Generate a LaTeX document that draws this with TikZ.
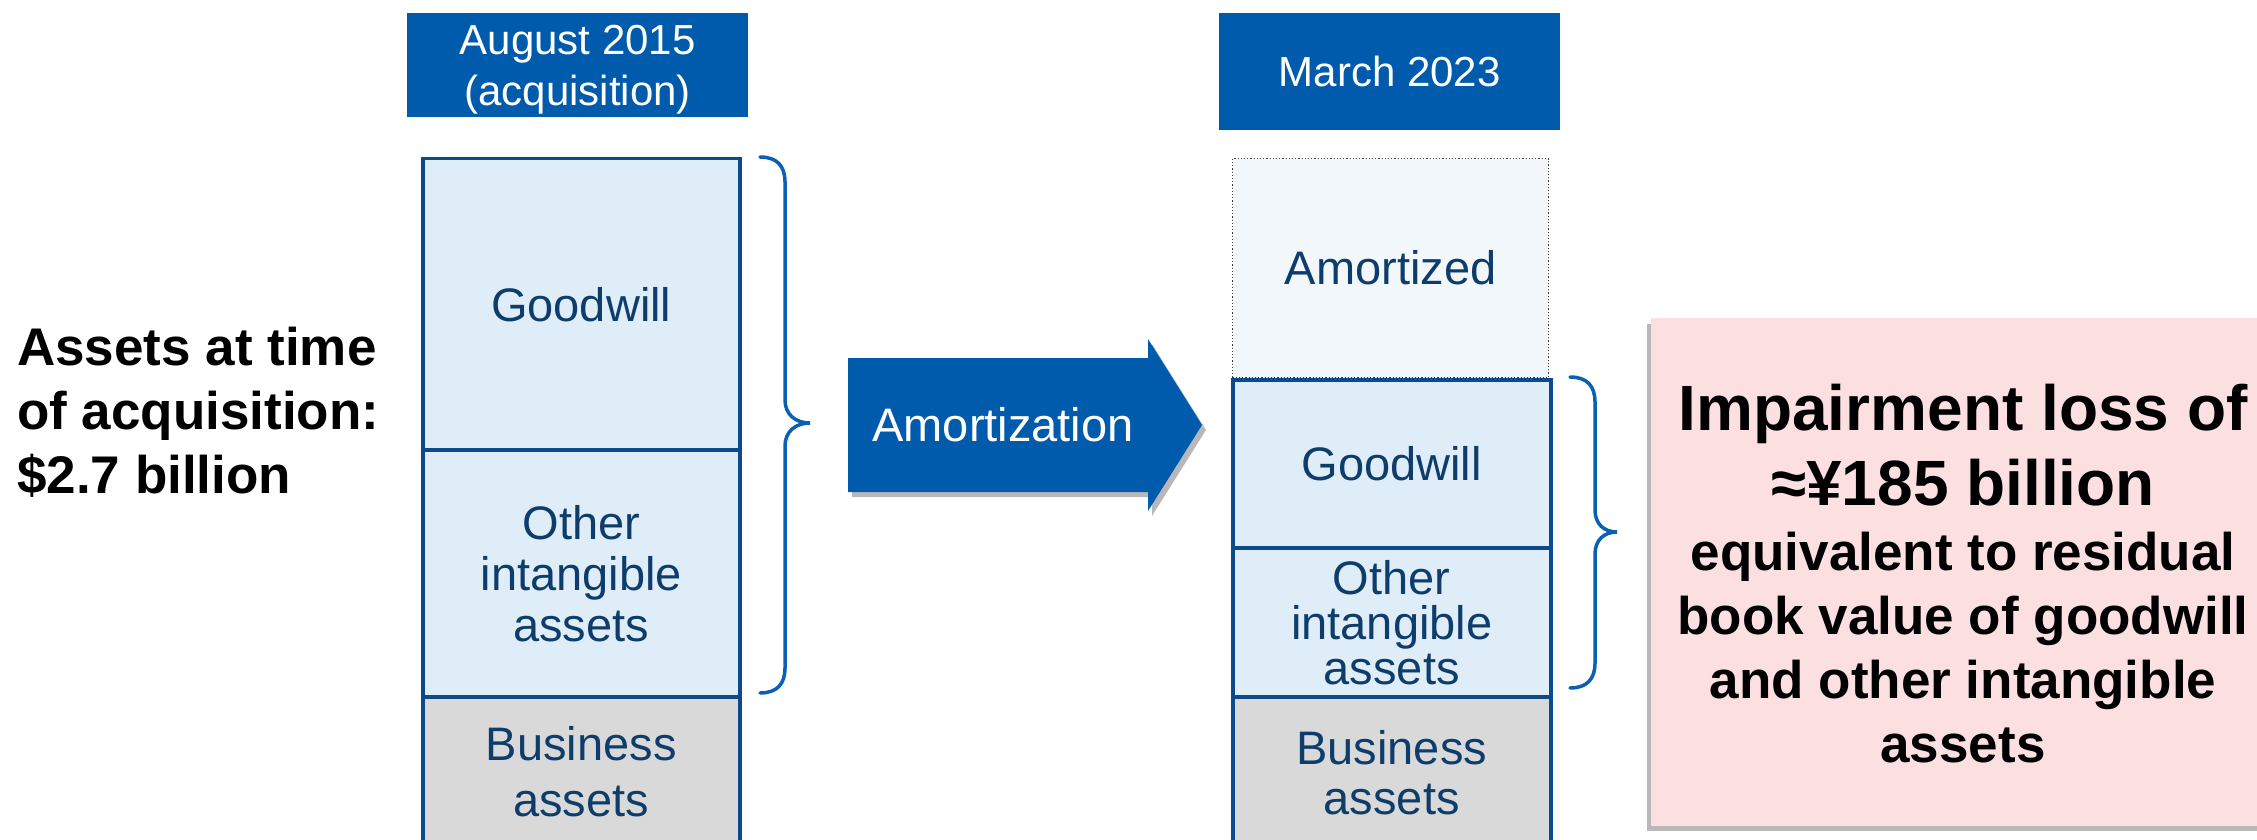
\documentclass[tikz,border=0pt]{standalone}
\usepackage{fontspec}
\setmainfont{Liberation Sans}
\definecolor{hdrblue}{HTML}{005BAC}
\definecolor{boxline}{HTML}{0B4A8B}
\definecolor{brkblue}{HTML}{0B5FB5}
\definecolor{lightfill}{HTML}{DEEDF8}
\definecolor{amfill}{HTML}{F2F7FC}
\definecolor{busfill}{HTML}{D9D9D9}
\definecolor{txtblue}{HTML}{0E3D6B}
\definecolor{pinkfill}{HTML}{FCE0E1}
\newcommand\nodp[1]{\raisebox{0pt}[\height][0pt]{#1}}
\begin{document}
\begin{tikzpicture}[x=1pt,y=-1pt,
  hdr/.style={fill=hdrblue, text=white, inner sep=0pt, anchor=north west, align=center,
    font=\fontsize{42}{51}\selectfont},
  blk/.style={draw=boxline, line width=3.5pt, inner sep=0pt, anchor=north west, align=center,
    text=txtblue, font=\fontsize{47}{51}\selectfont},
  light/.style={blk, fill=lightfill},
  bus/.style={blk, fill=busfill},
  brk/.style={draw=brkblue, line width=3.5pt, line cap=round},
  shade/.style={fill=black, opacity=0.28}]
\useasboundingbox (0,0) rectangle (2257,840);

% headers
\node[hdr, minimum width=341pt, minimum height=104pt] (h1) at (407,13) {August 2015\\\nodp{(acquisition)}};
\node[hdr, minimum width=341pt, minimum height=117pt] (h2) at (1219,13) {March 2023};

% left column
\node[light, minimum width=317pt, minimum height=291pt] (lgw) at (421,157) {Goodwill};
\node[light, minimum width=317pt, minimum height=247pt] (loth) at (421,448) {Other\\intangible\\assets};
\node[bus, minimum width=317pt, minimum height=150pt, font=\fontsize{47}{56}\selectfont] (lbus) at (421,695) {Business\\assets};

% right column
\node[blk, draw=black!75, line width=1.2pt, dotted, fill=amfill, minimum width=316pt, minimum height=219pt] (ram) at (1232,158) {Amortized};
\node[light, minimum width=318pt, minimum height=168pt] (rgw) at (1231,378) {Goodwill};
\node[light, minimum width=318pt, minimum height=149pt, font=\fontsize{47}{45}\selectfont] (roth) at (1231,546) {Other\\intangible\\assets};
\node[bus, minimum width=318pt, minimum height=152pt, font=\fontsize{47}{50}\selectfont] (rbus) at (1231,695) {Business\\assets};

% left label
\node[anchor=west, align=left, inner sep=0pt, font=\bfseries\fontsize{53}{64}\selectfont] (assets) at (17,410)
  {Assets at time\\of acquisition:\\\nodp{\$2.7 billion}};

% brackets
\draw[brk] (760,157) .. controls (777,157) and (785,166) .. (785,182) -- (785,400)
  .. controls (785,414) and (795,423) .. (810,423)
  .. controls (795,423) and (785,432) .. (785,446) -- (785,668)
  .. controls (785,684) and (777,693) .. (760,693);
\draw[brk] (1570,377) .. controls (1587,377) and (1595,386) .. (1595,402) -- (1595,510)
  .. controls (1595,524) and (1604,532) .. (1617,532)
  .. controls (1604,532) and (1595,540) .. (1595,554) -- (1595,663)
  .. controls (1595,679) and (1587,688) .. (1570,688);

% amortization arrow
\fill[shade] (852,363) -- (1152,363) -- (1152,344) -- (1206,430) -- (1152,516) -- (1152,497) -- (852,497) -- cycle;
\fill[hdrblue] (848,358) -- (1148,358) -- (1148,339) -- (1202,425) -- (1148,511) -- (1148,492) -- (848,492) -- cycle;
\node[text=white, inner sep=0pt, font=\fontsize{47}{51}\selectfont] (amtxt) at (1003,425) {Amortization};

% impairment box
\fill[shade] (1647,324) rectangle (2275,831);
\node[fill=pinkfill, anchor=north west, inner sep=0pt, minimum width=624pt, minimum height=508pt] (loss) at (1651,318) {};
\node[align=center, inner sep=0pt, font=\bfseries\fontsize{64}{75}\selectfont] (losstitle) at (1963,445.5)
  {Impairment loss of\\≈¥185 billion};
\node[align=center, inner sep=0pt, font=\bfseries\fontsize{53}{64}\selectfont] (lossbody) at (1963,647.5)
  {equivalent to residual\\book value of goodwill\\and other intangible\\assets};
\end{tikzpicture}
\end{document}
